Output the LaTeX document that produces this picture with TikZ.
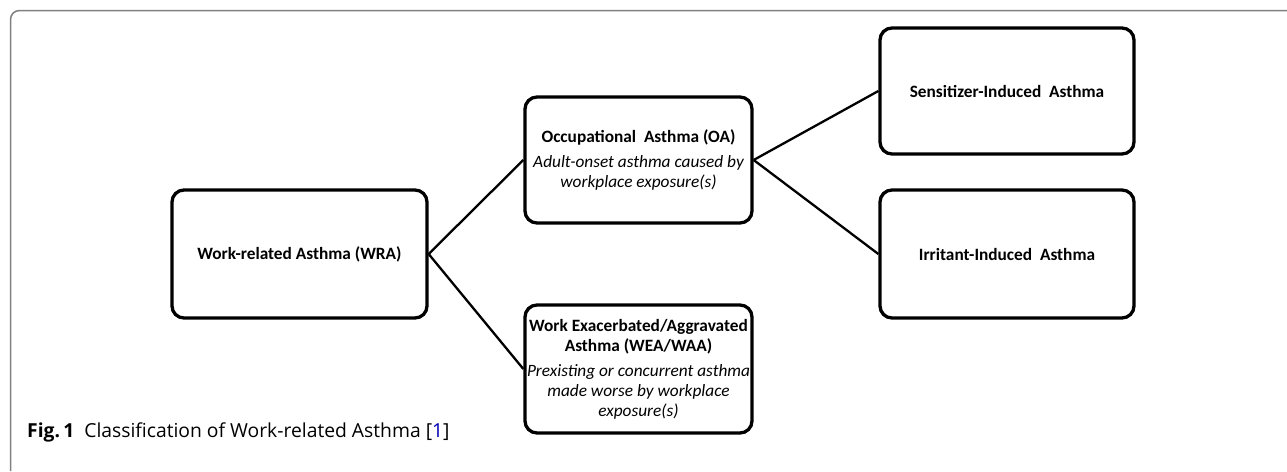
\documentclass[tikz,border=0pt]{standalone}
\usepackage{fontspec}
\setmainfont{Carlito}
\newfontfamily\capfont{Open Sans}
\begin{document}
\begin{tikzpicture}[x=1pt,y=-1pt,
  box/.style={draw=black,line width=3.3pt,rounded corners=12pt,align=center,
    inner sep=0pt,font=\fontsize{17.3}{20}\selectfont},
  link/.style={draw=black,line width=2.3pt},
  frame/.style={draw=black!50,line width=1.5pt,rounded corners=9pt}]
\useasboundingbox (0,0) rectangle (1287,471);
\newcommand{\itl}[1]{{\itshape #1}}
\draw[frame] (10.5,471) -- (10.5,10.5) -- (1290,10.5);
\node[box,minimum width=255pt,minimum height=128pt] (wra) at (299.5,254) {\textbf{Work-related Asthma (WRA)}};
\node[box,minimum width=227pt,minimum height=126pt] (oa) at (638.5,160)
  {\textbf{Occupational\ \ Asthma (OA)}\\[5pt]\itl{Adult-onset asthma caused by}\\\itl{workplace exposure(s)}};
\node[box,minimum width=227pt,minimum height=128pt] (wea) at (638.5,369)
  {\textbf{Work Exacerbated/Aggravated}\\\textbf{Asthma (WEA/WAA)}\\[5pt]\itl{Prexisting or concurrent asthma}\\\itl{made worse by workplace}\\\itl{exposure(s)}};
\node[box,minimum width=254pt,minimum height=126pt] (sia) at (1007,91) {\textbf{Sensitizer-Induced\ \ Asthma}};
\node[box,minimum width=254pt,minimum height=128pt] (iia) at (1007,254) {\textbf{Irritant-Induced\ \ Asthma}};
\draw[link] (wra.east) -- (oa.west);
\draw[link] (wra.east) -- (wea.west);
\draw[link] (oa.east) -- (sia.west);
\draw[link] (oa.east) -- (iia.west);
\node[anchor=base west,inner sep=0pt,font=\capfont\fontsize{19.3}{22}\selectfont] (cap) at (27,437)
  {\textbf{Fig.\,1}\ \ Classification of Work-related Asthma [\textcolor{blue!70!black}{1}]};
\end{tikzpicture}
\end{document}
